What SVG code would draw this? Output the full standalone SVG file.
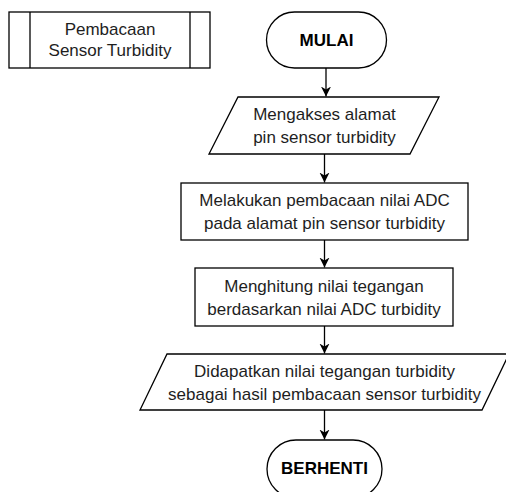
<svg xmlns="http://www.w3.org/2000/svg" width="506" height="492" viewBox="0 0 506 492">
  <style>
    .shape { fill: #ffffff; stroke: #000000; stroke-width: 1.3; }
    .label { font-family: "Liberation Sans", Arial, sans-serif; font-size: 17px; fill: #1e1e1e; text-anchor: middle; }
    .bold { font-weight: bold; fill: #000000; }
    .edge { fill: none; stroke: #000000; stroke-width: 1.3; }
  </style>
  <defs>
    <marker id="arrow" markerUnits="userSpaceOnUse" markerWidth="12" markerHeight="12" refX="10" refY="5" orient="auto">
      <path d="M0,0 L10,5 L0,10 L3,5 Z" fill="#000000"/>
    </marker>
  </defs>
  <rect width="506" height="492" fill="#ffffff"/>

  <!-- predefined process -->
  <g id="subproses">
    <rect class="shape" x="9" y="12" width="201" height="56"/>
    <line class="shape" x1="30" y1="12" x2="30" y2="68"/>
    <line class="shape" x1="190" y1="12" x2="190" y2="68"/>
    <text class="label" x="110" y="35">Pembacaan</text>
    <text class="label" x="110" y="55.5">Sensor Turbidity</text>
  </g>

  <g id="mulai">
    <rect class="shape" x="266.5" y="12" width="120" height="56" rx="28" ry="28"/>
    <text class="label bold" x="326.5" y="45.5">MULAI</text>
  </g>

  <g id="akses-alamat">
    <polygon class="shape" points="238,97 439,97 410,154 209,154"/>
    <text class="label" x="324.5" y="120">Mengakses alamat</text>
    <text class="label" x="324.5" y="143">pin sensor turbidity</text>
  </g>

  <g id="baca-adc">
    <rect class="shape" x="181" y="183" width="287" height="57"/>
    <text class="label" x="324.5" y="206">Melakukan pembacaan nilai ADC</text>
    <text class="label" x="324.5" y="229">pada alamat pin sensor turbidity</text>
  </g>

  <g id="hitung-tegangan">
    <rect class="shape" x="195" y="268" width="258" height="58"/>
    <text class="label" x="324" y="292">Menghitung nilai tegangan</text>
    <text class="label" x="324" y="315">berdasarkan nilai ADC turbidity</text>
  </g>

  <g id="hasil-tegangan">
    <polygon class="shape" points="167,354 509,354 482,410 140,410"/>
    <text class="label" x="324.5" y="377">Didapatkan nilai tegangan turbidity</text>
    <text class="label" x="324.5" y="400">sebagai hasil pembacaan sensor turbidity</text>
  </g>

  <g id="berhenti">
    <rect class="shape" x="267" y="440" width="115" height="58" rx="29" ry="29"/>
    <text class="label bold" x="324.5" y="474">BERHENTI</text>
  </g>

  <g id="connectors">
    <line class="edge" x1="326" y1="68" x2="326" y2="96.5" marker-end="url(#arrow)"/>
    <line class="edge" x1="324.5" y1="154" x2="324.5" y2="182.5" marker-end="url(#arrow)"/>
    <line class="edge" x1="324.5" y1="240" x2="324.5" y2="267.5" marker-end="url(#arrow)"/>
    <line class="edge" x1="324.5" y1="326" x2="324.5" y2="353.5" marker-end="url(#arrow)"/>
    <line class="edge" x1="324.5" y1="410" x2="324.5" y2="439.5" marker-end="url(#arrow)"/>
  </g>
</svg>
